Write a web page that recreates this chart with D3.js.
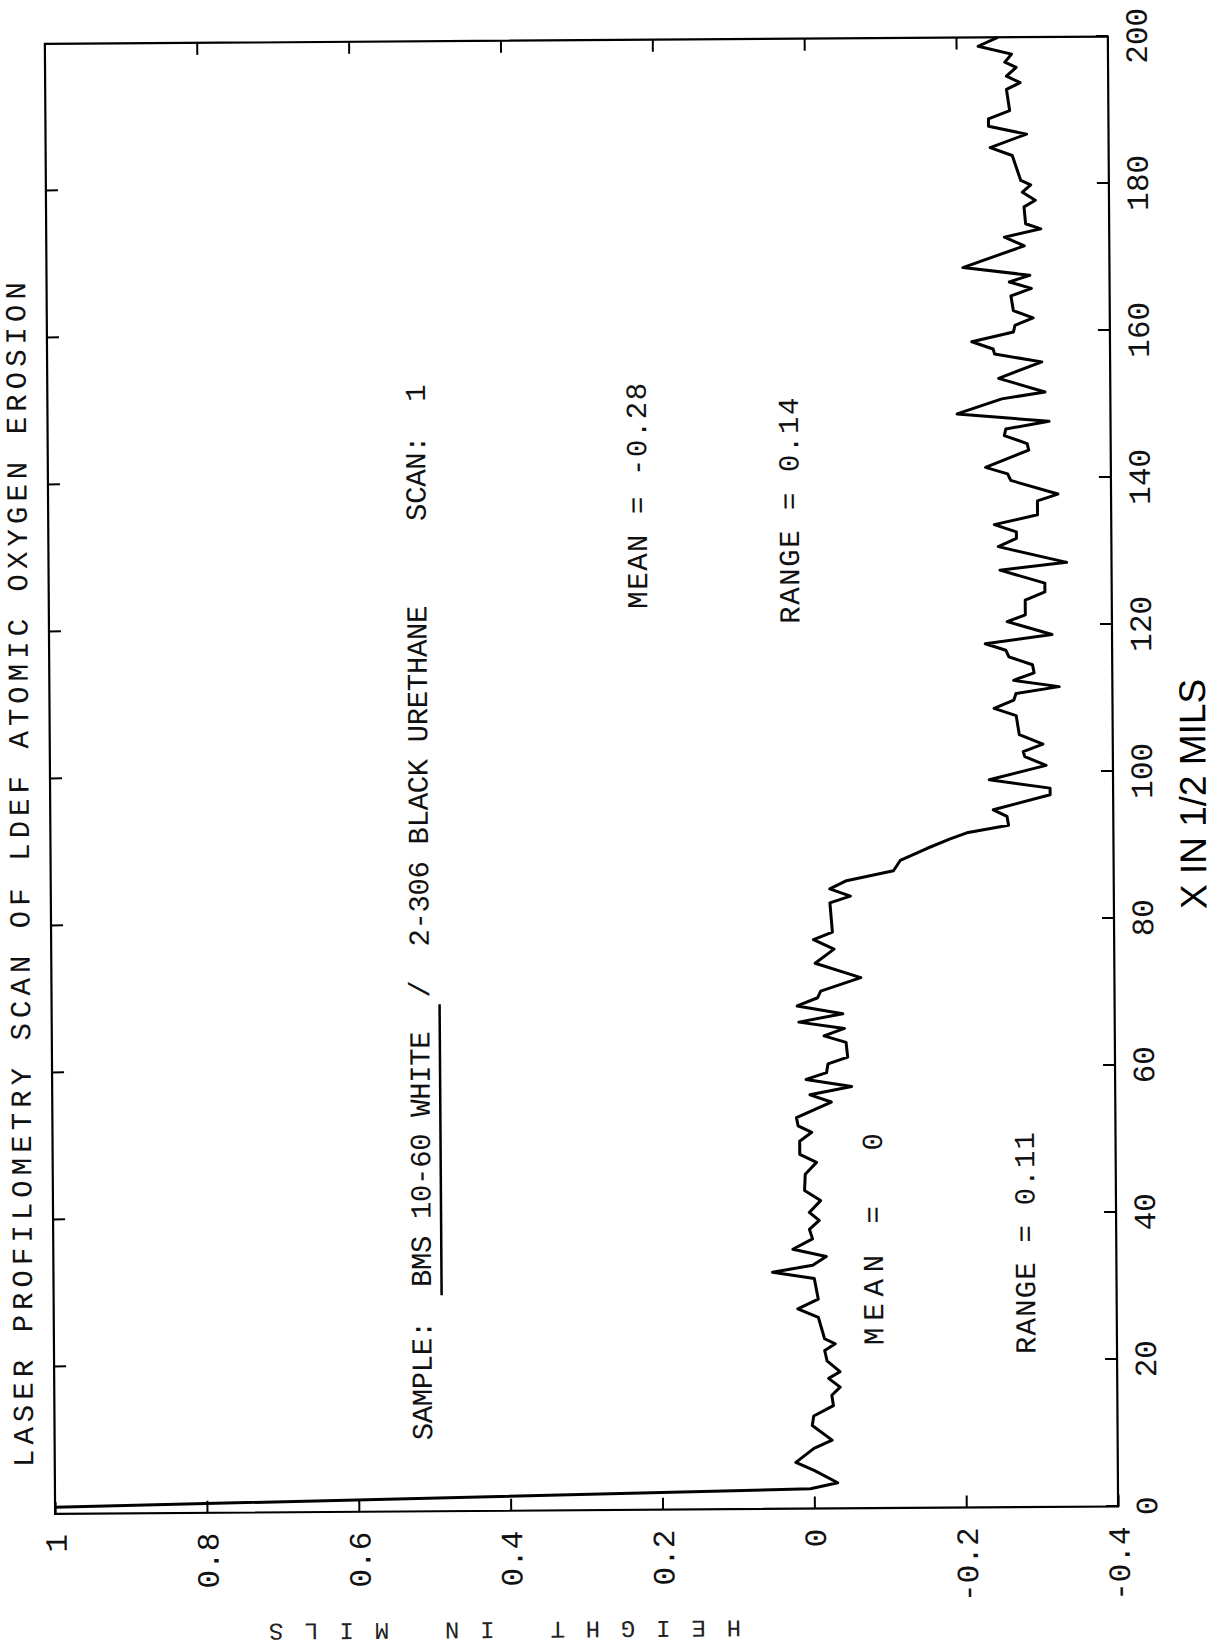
<!DOCTYPE html>
<html><head><meta charset="utf-8">
<script src="https://cdn.jsdelivr.net/npm/d3@7"></script>
<style>body{margin:0;background:#fff;} svg{display:block}</style>
</head><body>
<svg id="c" width="1224" height="1648"></svg>
<script>
// ---- data (X in 1/2 mils, height in mils) ----
const scanX = [0.9,2.7,3.5,5.2,6.3,8.2,9.3,11.3,12.6,14.0,15.4,16.5,17.7,18.6,20.1,21.5,22.4,23.1,26.0,27.2,28.5,31.3,32.2,33.1,34.3,35.3,36.7,38.0,39.2,40.3,41.9,43.3,45.5,47.1,48.2,50.0,51.2,52.1,53.2,55.3,56.3,57.4,58.4,59.3,60.5,61.4,63.4,64.3,65.3,66.2,67.3,68.4,69.5,70.4,72.2,74.2,76.1,77.4,78.4,82.4,83.3,84.3,85.4,86.7,88.1,89.7,91.0,91.8,92.8,94.0,94.9,96.9,97.8,99.0,100.9,102.1,102.8,103.8,105.1,107.7,108.7,109.8,110.7,111.6,112.5,113.5,114.6,115.7,116.6,117.5,118.7,120.5,121.4,123.4,124.5,125.7,127.5,128.5,130.7,131.8,132.7,133.7,135.0,136.9,137.8,139.7,140.6,141.5,143.8,144.7,145.8,146.7,147.7,148.8,150.8,151.7,153.6,155.8,156.9,157.6,158.6,159.9,160.8,161.8,162.8,164.8,165.8,166.7,167.6,168.7,171.6,172.8,173.9,174.6,176.9,177.8,178.9,179.9,180.5,183.9,185.0,186.8,187.9,188.9,190.0,192.9,193.8,194.7,195.9,196.6,197.7,198.8,200.0];
const scanHeight = [1.0,0.005,-0.031,0.000,0.024,0.000,-0.024,0.002,0.000,-0.026,-0.024,-0.035,-0.020,-0.035,-0.018,-0.015,-0.029,-0.015,-0.007,0.020,-0.007,-0.002,0.053,0.000,-0.018,0.026,0.000,0.004,-0.009,0.004,-0.011,0.010,0.009,-0.006,0.016,0.016,0.000,0.018,0.020,-0.026,0.002,-0.053,0.007,-0.020,-0.022,-0.048,-0.046,-0.017,-0.044,0.016,-0.042,0.018,-0.009,-0.013,-0.066,-0.006,-0.031,-0.004,-0.029,-0.026,-0.053,-0.026,-0.048,-0.110,-0.119,-0.154,-0.185,-0.207,-0.262,-0.260,-0.242,-0.317,-0.317,-0.237,-0.312,-0.284,-0.282,-0.308,-0.277,-0.273,-0.244,-0.270,-0.273,-0.330,-0.270,-0.297,-0.295,-0.264,-0.260,-0.233,-0.321,-0.262,-0.286,-0.286,-0.312,-0.312,-0.253,-0.341,-0.251,-0.275,-0.275,-0.246,-0.303,-0.303,-0.330,-0.268,-0.264,-0.235,-0.292,-0.290,-0.260,-0.262,-0.319,-0.198,-0.257,-0.314,-0.253,-0.310,-0.248,-0.246,-0.218,-0.273,-0.275,-0.299,-0.273,-0.270,-0.297,-0.268,-0.295,-0.207,-0.288,-0.262,-0.310,-0.290,-0.288,-0.303,-0.286,-0.297,-0.284,-0.273,-0.244,-0.292,-0.242,-0.242,-0.270,-0.266,-0.284,-0.266,-0.279,-0.264,-0.273,-0.229,-0.255];
const xTicks = [0,20,40,60,80,100,120,140,160,180,200];
const yTicks = [1,0.8,0.6,0.4,0.2,0,-0.2,-0.4];
const yTickLabels = ["1","0.8","0.6","0.4","0.2","0","-0.2","-0.4"];
const titleText = "LASER PROFILOMETRY SCAN OF LDEF ATOMIC OXYGEN EROSION";
const sampleText = "SAMPLE:  BMS 10-60 WHITE  /  2-306 BLACK URETHANE     SCAN:  1";
const statsLeft = ["MEAN =  0", "RANGE = 0.11"];
const statsRight = ["MEAN = -0.28", "RANGE = 0.14"];
const xTitle = "X IN 1/2 MILS";
const yTitle = "HEIGHT IN MILS";

const W = 1224, H = 1648;
const svg = d3.select("#c");
const root = svg.append("g").attr("transform", "rotate(-0.4 612 777)");
// chart drawn in its own orientation, then turned a quarter turn counter-clockwise
const g = root.append("g").attr("transform", `translate(0,${H}) rotate(-90)`);

const x = d3.scaleLinear().domain([0, 200]).range([138, 1608]);
const y = d3.scaleLinear().domain([-0.4, 1]).range([1113, 50]);

const mono = "'Liberation Mono', 'DejaVu Sans Mono', monospace";

// frame
g.append("rect")
  .attr("x", x(0)).attr("y", y(1))
  .attr("width", x(200) - x(0)).attr("height", y(-0.4) - y(1))
  .attr("fill", "none").attr("stroke", "#000").attr("stroke-width", 2.2);

// axes (ticks point inward)
const xAxis = d3.axisBottom(x).tickValues(xTicks).tickSizeInner(-12).tickSizeOuter(0).tickPadding(17).tickFormat(d3.format("d"));
const gx = g.append("g").attr("transform", `translate(0,${y(-0.4)})`).call(xAxis);
const yAxis = d3.axisLeft(y).tickValues(yTicks).tickSizeInner(-12).tickSizeOuter(0).tickPadding(20)
  .tickFormat((d, i) => yTickLabels[i]);
const gy = g.append("g").attr("transform", `translate(${x(0)},0)`).call(yAxis);
const gxt = g.append("g").attr("transform", `translate(0,${y(1)})`)
  .call(d3.axisTop(x).tickValues(xTicks.slice(1, -1)).tickSizeInner(-12).tickSizeOuter(0).tickFormat(""));
const gyr = g.append("g").attr("transform", `translate(${x(200)},0)`)
  .call(d3.axisRight(y).tickValues(yTicks.slice(1, -1)).tickSizeInner(-12).tickSizeOuter(0).tickFormat(""));
[gx, gy, gxt, gyr].forEach(a => {
  a.select(".domain").remove();
  a.selectAll("line").attr("stroke", "#000").attr("stroke-width", 2);
  a.selectAll("text").attr("font-family", mono).attr("font-size", 31).attr("fill", "#111");
});
gy.selectAll("text").attr("dy", "0.35em");

// scan line
const pts = scanX.map((v, i) => [v, scanHeight[i]]);
g.append("path").datum(pts)
  .attr("d", d3.line().x(d => x(d[0])).y(d => y(d[1])))
  .attr("fill", "none").attr("stroke", "#000").attr("stroke-width", 3)
  .attr("stroke-linejoin", "round");

function label(text, u, v, len, size) {
  const t = g.append("text").attr("x", u).attr("y", v)
    .attr("font-family", mono).attr("font-size", size).attr("fill", "#111")
    .attr("dominant-baseline", "central").attr("xml:space", "preserve")
    .style("white-space", "pre").text(text);
  if (len) t.attr("textLength", len).attr("lengthAdjust", "spacing");
  return t;
}
// title and annotations
label(titleText, 185, 21, 1185, 29);
label(sampleText, 209, 420, 1056, 29);
g.append("line").attr("x1", 354).attr("x2", 645).attr("y1", 438).attr("y2", 438)
  .attr("stroke", "#000").attr("stroke-width", 2.5);
label(statsRight[0], 1039, 641, 226, 29);
label(statsRight[1], 1023, 793, 226, 29);
label(statsLeft[0], 301, 872, 212, 29);
label(statsLeft[1], 291, 1024, 222, 29);

// axis titles
g.append("text").attr("x", 850).attr("y", 1193)
  .attr("text-anchor", "middle").attr("dominant-baseline", "central")
  .attr("font-family", "'Liberation Sans', Arial, sans-serif").attr("font-size", 37)
  .attr("fill", "#000").text(xTitle);
g.append("text").attr("transform", `translate(20,499) rotate(-90)`)
  .attr("text-anchor", "middle").attr("dominant-baseline", "central")
  .attr("font-family", mono).attr("font-size", 24).attr("fill", "#222")
  .attr("textLength", 472).attr("lengthAdjust", "spacing").text(yTitle);
</script>
</body></html>
